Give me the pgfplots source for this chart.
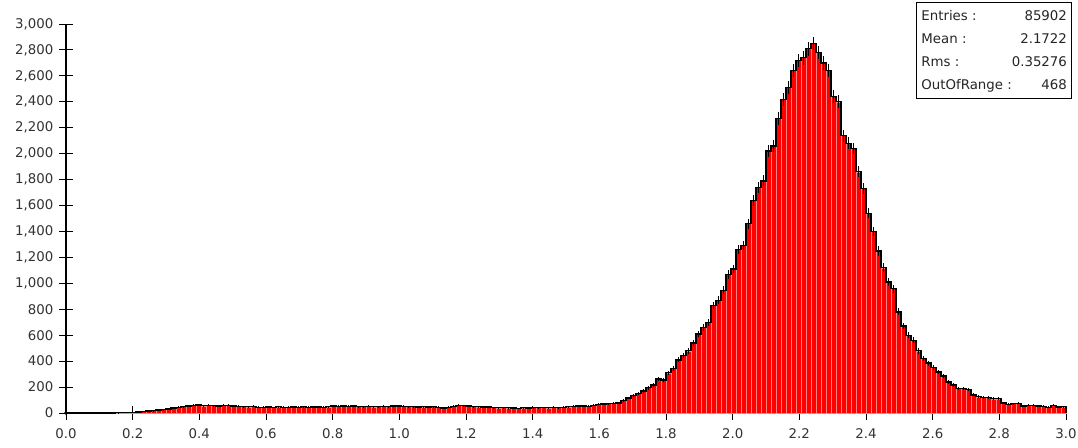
\documentclass[border=0pt]{standalone}
\usepackage{pgfplots}
\pgfplotsset{compat=1.18}
\usepackage{pgfplotstable}
\usepackage{fontspec}
\setmainfont{DejaVu Sans}

\pgfplotstableread{
x y
0.150 3
0.165 4
0.180 4
0.195 6
0.210 8
0.225 12
0.240 15
0.255 18
0.270 22
0.285 26
0.300 30
0.315 38
0.330 45
0.345 50
0.360 55
0.375 58
0.390 62
0.405 56
0.420 60
0.435 57
0.450 54
0.465 58
0.480 60
0.495 55
0.510 52
0.525 50
0.540 48
0.555 52
0.570 45
0.585 44
0.600 46
0.615 43
0.630 48
0.645 45
0.660 44
0.675 47
0.690 45
0.705 49
0.720 44
0.735 46
0.750 47
0.765 45
0.780 48
0.795 54
0.810 52
0.825 55
0.840 51
0.855 53
0.870 50
0.885 49
0.900 51
0.915 48
0.930 50
0.945 52
0.960 49
0.975 53
0.990 55
1.005 51
1.020 49
1.035 50
1.050 47
1.065 48
1.080 46
1.095 49
1.110 45
1.125 38
1.140 44
1.155 52
1.170 60
1.185 57
1.200 53
1.215 50
1.230 48
1.245 46
1.260 47
1.275 42
1.290 40
1.305 41
1.320 40
1.335 38
1.350 36
1.365 40
1.380 39
1.395 42
1.410 41
1.425 43
1.440 40
1.455 44
1.470 42
1.485 45
1.500 48
1.515 52
1.530 54
1.545 53
1.560 52
1.575 60
1.590 66
1.605 70
1.620 72
1.635 75
1.650 78
1.665 95
1.680 115
1.695 135
1.710 150
1.725 170
1.740 195
1.755 215
1.770 262
1.785 255
1.800 310
1.815 345
1.830 410
1.845 445
1.860 480
1.875 540
1.890 610
1.905 660
1.920 700
1.935 830
1.950 870
1.965 945
1.980 1070
1.995 1110
2.010 1260
2.025 1290
2.040 1460
2.055 1640
2.070 1740
2.085 1790
2.100 2020
2.115 2060
2.130 2270
2.145 2420
2.160 2510
2.175 2640
2.190 2720
2.205 2740
2.220 2810
2.235 2850
2.250 2780
2.265 2700
2.280 2640
2.295 2440
2.310 2400
2.325 2140
2.340 2080
2.355 2040
2.370 1860
2.385 1730
2.400 1540
2.415 1400
2.430 1250
2.445 1120
2.460 1010
2.475 960
2.490 780
2.505 670
2.520 600
2.535 560
2.550 480
2.565 420
2.580 385
2.595 350
2.610 315
2.625 285
2.640 240
2.655 215
2.670 190
2.685 188
2.700 182
2.715 140
2.730 125
2.745 120
2.760 118
2.775 110
2.790 110
2.805 78
2.820 68
2.835 72
2.850 75
2.865 55
2.880 58
2.895 60
2.910 55
2.925 52
2.940 45
2.955 58
2.970 46
2.985 48
3.000 48
}\hist

\begin{document}
\begin{tikzpicture}[x=1pt,y=1pt]
\useasboundingbox (-49.5,-25.5) rectangle (759,309.75);
\begin{axis}[
  at={(0,0)}, anchor=south west,
  scale only axis, width=750pt, height=291.75pt,
  xmin=0, xmax=3, ymin=0, ymax=3000,
  axis lines=left, axis line style={-, black, line width=0.8pt},
  clip=false,
  xtick distance=0.2, ytick distance=200,
  tick align=center, major tick length=10pt,
  tick style={black, line width=0.7pt},
  scaled y ticks=false,
  ticklabel style={font=\fontsize{10}{12}\selectfont, text=black!80},
  xticklabel style={yshift=-3.5pt, /pgf/number format/.cd, fixed, fixed zerofill, precision=1, assume math mode=true},
  yticklabel style={xshift=-1pt, /pgf/number format/.cd, fixed, 1000 sep={,}, assume math mode=true},
]
\addplot[ybar interval, fill=red, draw={rgb,255:red,255;green,130;blue,130}, line width=0.35pt] table[x=x,y=y]{\hist};
\addplot[const plot, black, line width=1pt] table[x=x,y=y]{\hist};
\addplot[black, line width=1pt] coordinates {(3.0,0) (3.0,48)};
\addplot[draw=none, mark=none, restrict x to domain=0:2.995,
  error bars/.cd, y dir=both, y explicit, error mark=none,
  error bar style={draw=black, line width=0.9pt}]
  table[x expr=\thisrow{x}+0.0075, y=y, y error expr=sqrt(\thisrow{y})]{\hist};
\addplot[only marks, mark=*, mark size=1.2pt, black] coordinates {(0,0)};
\node[draw=black, line width=0.6pt, fill=white, anchor=north east, inner xsep=3.5pt, inner ysep=2pt,
  font=\fontsize{10}{12}\selectfont, text=black!85]
  at (axis cs:3.018,3170)
  {\renewcommand{\arraystretch}{1.42}\begin{tabular}{@{}l@{}r@{}}
   Entries : & 85902\\
   Mean : & 2.1722\\
   Rms : & 0.35276\\
   OutOfRange : & 468
  \end{tabular}};
\end{axis}
\end{tikzpicture}
\end{document}
